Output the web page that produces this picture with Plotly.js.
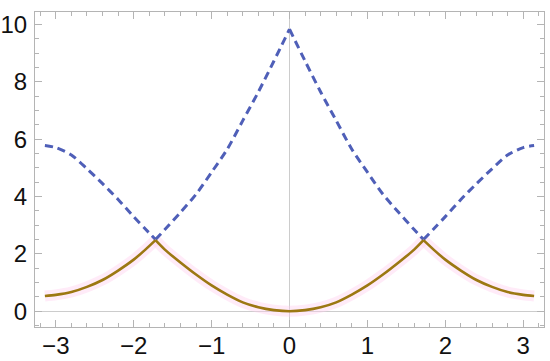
<!DOCTYPE html>
<html>
<head>
<meta charset="utf-8">
<script src="https://cdn.plot.ly/plotly-3.0.1.min.js"></script>
<style>
  html, body { margin: 0; padding: 0; background: #fff; }
  #plot { width: 550px; height: 361px; }
</style>
</head>
<body>
<div id="plot"></div>
<script>
// k values (x axis)
var kx = [-3.14, -3.0, -2.8, -2.6, -2.4, -2.2, -2.0, -1.85, -1.72, -1.6, -1.4, -1.2, -1.0, -0.8, -0.6, -0.4, -0.2,
          0, 0.2, 0.4, 0.6, 0.8, 1.0, 1.2, 1.4, 1.6, 1.72, 1.85, 2.0, 2.2, 2.4, 2.6, 2.8, 3.0, 3.14];

// upper branch (blue dashed)
var upper = [5.78, 5.71, 5.45, 4.97, 4.45, 3.9, 3.3, 2.87, 2.5, 2.85, 3.45, 4.08, 4.85, 5.65, 6.65, 7.65, 8.73,
             9.84, 8.73, 7.65, 6.65, 5.65, 4.85, 4.08, 3.45, 2.85, 2.5, 2.87, 3.3, 3.9, 4.45, 4.97, 5.45, 5.71, 5.78];

// lower branch (brown solid)
var lower = [0.53, 0.57, 0.67, 0.85, 1.09, 1.42, 1.8, 2.15, 2.48, 2.15, 1.7, 1.28, 0.9, 0.58, 0.31, 0.14, 0.04,
             0, 0.04, 0.14, 0.31, 0.58, 0.9, 1.28, 1.7, 2.15, 2.48, 2.15, 1.8, 1.42, 1.09, 0.85, 0.67, 0.57, 0.53];

// index of the sharp corners, so the spline doesn't round them off
var upperCusps = [8, 17, 26];
var lowerCusps = [8, 26];

function pieces(ys, cusps, line) {
  var cuts = [0].concat(cusps, [kx.length - 1]);
  var out = [];
  for (var i = 0; i < cuts.length - 1; i++) {
    out.push({
      x: kx.slice(cuts[i], cuts[i + 1] + 1),
      y: ys.slice(cuts[i], cuts[i + 1] + 1),
      mode: 'lines', type: 'scatter', hoverinfo: 'skip',
      line: Object.assign({shape: 'spline', smoothing: 0.8}, line)
    });
  }
  return out;
}

var data = []
  .concat(pieces(lower, lowerCusps, {color: 'rgba(255,205,238,0.4)', width: 11}))
  .concat(pieces(upper, upperCusps, {color: '#4f5fb8', width: 3, dash: '8px,5px'}))
  .concat(pieces(lower, lowerCusps, {color: '#9c7812', width: 2.6}));

var axisCommon = {
  showline: true, linecolor: '#b4b4b4', linewidth: 1, mirror: 'allticks',
  ticks: 'inside', ticklen: 7, tickcolor: '#b4b4b4', tickwidth: 1,
  showgrid: false, zeroline: true, zerolinecolor: '#cccccc', zerolinewidth: 1,
  tickfont: {family: 'Liberation Sans, Arial, sans-serif', size: 24, color: '#111'}
};

var layout = {
  width: 550, height: 361,
  margin: {l: 35, r: 6, t: 12, b: 34},
  paper_bgcolor: '#fff', plot_bgcolor: '#fff',
  showlegend: false,
  xaxis: Object.assign({}, axisCommon, {
    range: [-3.267, 3.267], tickmode: 'linear', tick0: 0, dtick: 1, ticklabelstandoff: -3,
    minor: {dtick: 0.2, ticks: 'inside', ticklen: 4, tickcolor: '#b4b4b4', showgrid: false}
  }),
  yaxis: Object.assign({}, axisCommon, {
    range: [-0.55, 10.44], tickmode: 'linear', tick0: 0, dtick: 2, ticklabelstandoff: 2,
    minor: {dtick: 0.5, ticks: 'inside', ticklen: 4, tickcolor: '#b4b4b4', showgrid: false}
  })
};

Plotly.newPlot('plot', data, layout, {displayModeBar: false, staticPlot: true});
</script>
</body>
</html>
